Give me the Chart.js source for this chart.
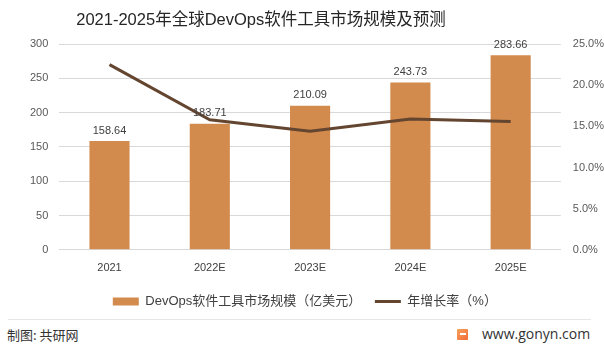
<!DOCTYPE html>
<html>
<head>
<meta charset="utf-8">
<script src="https://cdn.jsdelivr.net/npm/chart.js@4.4.0/dist/chart.umd.min.js"></script>
<style>
  html, body { margin: 0; padding: 0; background: #fff; }
  #wrap { position: relative; width: 604px; height: 345px; overflow: hidden; }
  #grafico { position: absolute; left: 0; top: 0; }
  #titulo { position: absolute; left: 0; top: 6px; width: 522px; text-align: center; white-space: nowrap;
            font-family: "Liberation Sans", "Noto Sans CJK SC", sans-serif; font-size: 16.5px; color: #262626; }
  .pie { position: absolute; font-family: "Noto Sans CJK SC", sans-serif; font-size: 13px; color: #333; }
  #linea { position: absolute; left: 8px; top: 319px; width: 583px; height: 1px; background: #e6e6e6; }
  #logo { position: absolute; left: 457px; top: 329px; width: 11px; height: 11px;
          background: linear-gradient(135deg, #f7a25a, #f26b3a); border-radius: 1px; }
  #logo:after { content: ""; position: absolute; left: 3px; top: 4px; width: 6px; height: 2px; background: #fff; }
</style>
</head>
<body>
<div id="wrap">
  <canvas id="grafico" width="604" height="318"></canvas>
  <div id="titulo">2021-2025年全球DevOps软件工具市场规模及预测</div>
  <div id="linea"></div>
  <div class="pie" style="left:7px; top:325px;">制图: 共研网</div>
  <div id="logo"></div>
  <div class="pie" style="left:482px; top:324px; font-family: 'Open Sans', sans-serif; font-size:14px;">www.gonyn.com</div>
</div>
<script>
const anios = ['2021', '2022E', '2023E', '2024E', '2025E'];
const mercado = [158.64, 183.71, 210.09, 243.73, 283.66];
const crecimiento = [22.5, 15.8, 14.4, 15.9, 15.6];
const ticksIzq = [0, 50, 100, 150, 200, 250, 300];
const ticksDer = [0, 5, 10, 15, 20, 25];

const fuente = '"Liberation Sans", "Noto Sans CJK SC", sans-serif';

// etiquetas encima de cada barra
const etiquetas = {
    id: 'etiquetas',
    afterDatasetsDraw(chart) {
        const ctx = chart.ctx;
        const meta = chart.getDatasetMeta(0);
        ctx.save();
        ctx.font = '11px ' + fuente;
        ctx.fillStyle = '#404040';
        ctx.textAlign = 'center';
        ctx.textBaseline = 'bottom';
        meta.data.forEach((barra, i) => {
            ctx.fillText(mercado[i].toFixed(2), barra.x, barra.y - 5);
        });
        ctx.restore();
    }
};

const ctx = document.getElementById('grafico').getContext('2d');

const miGrafico = new Chart(ctx, {
    type: 'bar',
    data: {
        labels: anios,
        datasets: [{
            type: 'bar',
            label: 'DevOps软件工具市场规模（亿美元） ',
            data: mercado,
            backgroundColor: '#D38B4D',
            barPercentage: 0.4,
            categoryPercentage: 1,
            yAxisID: 'y',
            order: 2
        }, {
            type: 'line',
            label: '年增长率（%）       ',
            data: crecimiento,
            borderColor: '#634530',
            backgroundColor: '#634530',
            borderWidth: 3,
            pointRadius: 0,
            tension: 0,
            yAxisID: 'y1',
            order: 1
        }]
    },
    options: {
        responsive: false,
        animation: false,
        layout: { padding: { left: 19, right: -12, top: 44, bottom: 0 } },
        plugins: {
            title: { display: false },
            legend: {
                position: 'bottom',
                labels: {
                    color: '#404040',
                    font: { family: fuente, size: 13 },
                    usePointStyle: true,
                    pointStyleWidth: 26,
                    boxHeight: 8,
                    padding: 10,
                    sort: (a, b) => a.datasetIndex - b.datasetIndex,
                    generateLabels: (chart) => Chart.defaults.plugins.legend.labels.generateLabels(chart)
                        .map(it => ({
                            ...it,
                            pointStyle: it.datasetIndex === 0 ? 'rect' : 'line',
                            lineWidth: it.datasetIndex === 0 ? 0 : 3
                        }))
                }
            },
            tooltip: { enabled: false }
        },
        scales: {
            x: {
                grid: { display: false },
                border: { color: '#d9d9d9' },
                ticks: { color: '#404040', font: { family: fuente, size: 11 }, padding: 4 },
                afterFit: (eje) => { eje.height += 6; }
            },
            y: {
                position: 'left',
                min: 0,
                max: 300,
                afterBuildTicks: (eje) => { eje.ticks = ticksIzq.map(v => ({ value: v })); },
                grid: { color: '#d9d9d9', drawTicks: false },
                border: { display: false },
                ticks: { color: '#595959', font: { family: fuente, size: 11 }, padding: 11 }
            },
            y1: {
                position: 'right',
                min: 0,
                max: 25,
                afterBuildTicks: (eje) => { eje.ticks = ticksDer.map(v => ({ value: v })); },
                grid: { display: false, drawTicks: false },
                border: { display: false },
                ticks: {
                    color: '#595959',
                    font: { family: fuente, size: 11 },
                    padding: 12,
                    callback: (v) => v.toFixed(1) + '%'
                }
            }
        }
    },
    plugins: [etiquetas]
});
</script>
</body>
</html>
